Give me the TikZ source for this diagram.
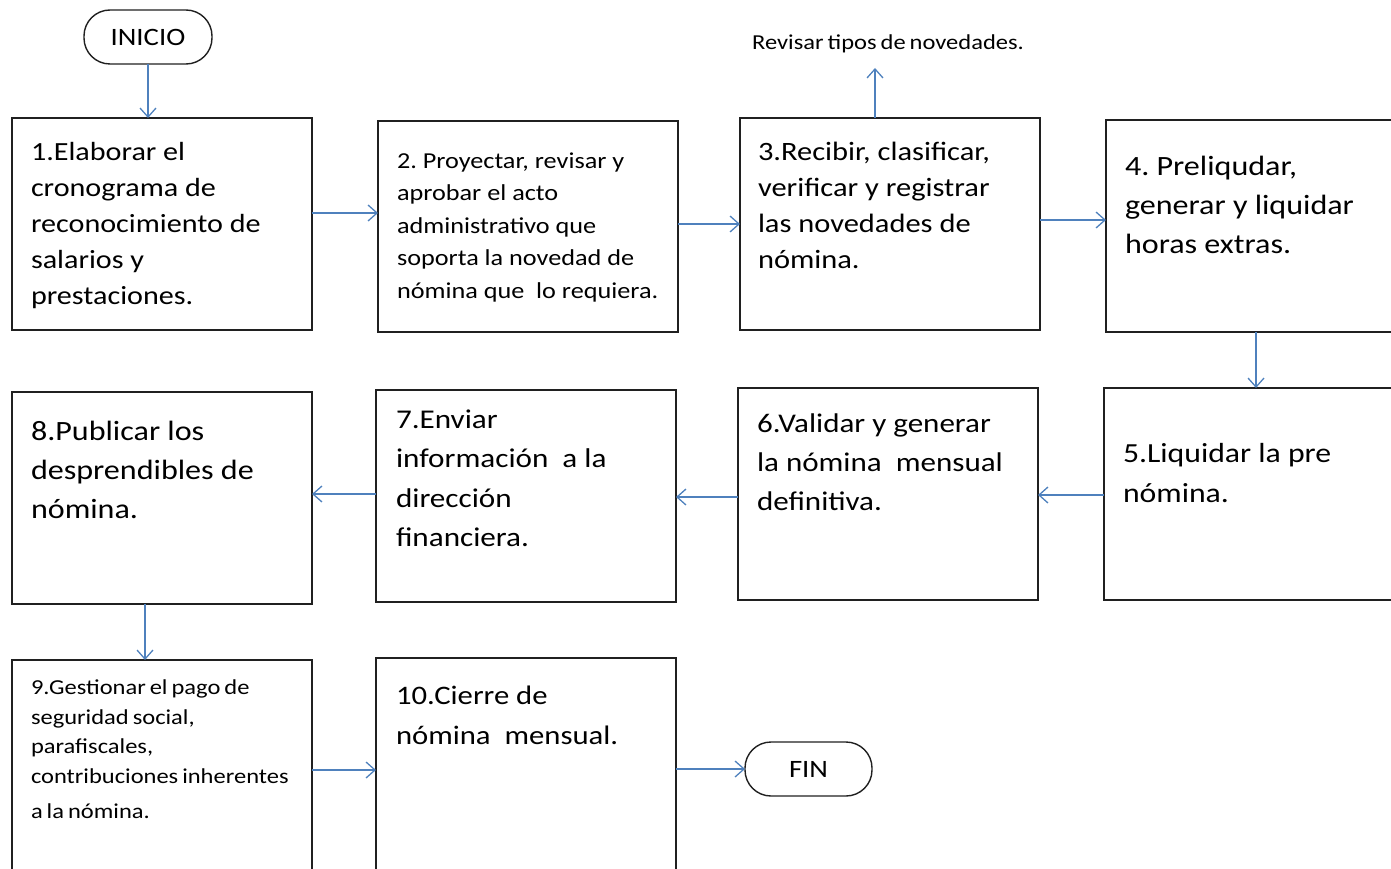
\documentclass[tikz,border=0pt]{standalone}
\usepackage{fontspec}
\setmainfont[FakeStretch=1.15]{Carlito}
\usetikzlibrary{arrows.meta,calc}
\definecolor{boxc}{HTML}{202020}
\definecolor{arrc}{HTML}{4F81BD}
\newcommand{\tightsp}{\spaceskip=4pt plus 1pt\relax}
\frenchspacing
\tikzset{
  box/.style={draw=boxc, line width=1.6pt, fill=none, inner sep=0pt, outer sep=0pt, anchor=north west},
  term/.style={draw=boxc, line width=1.4pt, rounded corners=26pt, inner sep=0pt, outer sep=0pt, font=\fontsize{25}{28}\selectfont},
  txt/.style={anchor=north west, inner sep=0pt, outer sep=0pt, align=left},
  arr/.style={draw=arrc, line width=1.3pt, -{Straight Barb[length=9pt,width=16pt,line width=1.3pt]}},
}
\begin{document}
\begin{tikzpicture}[x=1pt,y=-1pt]
\useasboundingbox (0,0) rectangle (1391,869);
\clip (0,0) rectangle (1391,869);
% terminals
\node[term, minimum width=128pt, minimum height=54pt] (ini) at (148,37) {\raisebox{-2pt}{INICIO}};
\node[term, minimum width=127pt, minimum height=54pt] (fin) at (808.5,769) {\raisebox{-1pt}{FIN}};
% boxes
\node[box, minimum width=300pt, minimum height=212pt] (b1) at (12,118) {};
\node[box, minimum width=300pt, minimum height=211pt] (b2) at (378,121) {};
\node[box, minimum width=300pt, minimum height=212pt] (b3) at (740,118) {};
\node[box, minimum width=320pt, minimum height=212pt] (b4) at (1106,120) {};
\node[box, minimum width=320pt, minimum height=212pt] (b5) at (1104,388) {};
\node[box, minimum width=300pt, minimum height=212pt] (b6) at (738,388) {};
\node[box, minimum width=300pt, minimum height=212pt] (b7) at (376,390) {};
\node[box, minimum width=300pt, minimum height=212pt] (b8) at (12,392) {};
\node[box, minimum width=300pt, minimum height=240pt] (b9) at (12,660) {};
\node[box, minimum width=300pt, minimum height=240pt] (b10) at (376,658) {};
% texts
\node[txt, font=\fontsize{26.2}{36}\selectfont] (t1) at (31,142) {1.Elaborar el\\cronograma de\\reconocimiento de\\salarios y\\prestaciones.};
\node[txt, font=\fontsize{22.8}{32.5}\selectfont] (t2) at (397,152.5) {2. Proyectar, revisar y\\aprobar el acto\\administrativo que\\soporta la novedad de\\nómina que \ lo requiera.};
\node[txt, font=\fontsize{26.5}{36}\selectfont] (t3) at (758,142) {3.Recibir, clasificar,\\verificar y registrar\\las novedades de\\nómina.};
\node[txt, font=\fontsize{27.9}{39}\selectfont] (t4) at (1125,156) {4. Preliqudar,\\generar y liquidar\\horas extras.};
\node[txt, font=\fontsize{27.6}{40}\selectfont] (t5) at (1123,443.5) {5.Liquidar la pre\\nómina.};
\node[txt, font=\fontsize{27}{39}\selectfont] (t6) at (757,413.5) {6.Validar y generar\\la nómina \ mensual\\definitiva.};
\node[txt, font=\fontsize{27.1}{39.5}\selectfont] (t7) at (396,409.5) {7.Enviar\\información \ a la\\dirección\\financiera.};
\node[txt, font=\fontsize{27.9}{39}\selectfont] (t8) at (31,421.5) {8.Publicar los\\desprendibles de\\nómina.};
\node[txt, font=\fontsize{21.3}{29.5}\selectfont\tightsp] (t9) at (31,680) {9.Gestionar el pago de\\seguridad social,\\parafiscales,\\contribuciones inherentes\\[6pt]a la nómina.};
\node[txt, font=\fontsize{26.7}{40}\selectfont] (t10) at (396,686) {10.Cierre de\\nómina \ mensual.};
\node[inner sep=0pt, font=\fontsize{21.3}{24}\selectfont\tightsp] (rev) at (888,44) {Revisar tipos de novedades.};
% connector helpers
\path ($(b1.east)+(0,-11)$) coordinate (a12);
\path ($(b2.east)+(0,-2.5)$) coordinate (a23);
\path ($(b3.east)+(0,-4)$) coordinate (a34);
\path ($(b4.south)+(-10,0)$) coordinate (a45);
\path ($(b5.west)+(0,1)$) coordinate (a56);
\path ($(b6.west)+(0,3)$) coordinate (a67);
\path ($(b7.west)+(0,-2)$) coordinate (a78);
\path ($(b8.south)+(-17,0)$) coordinate (a89);
\path (b9.west |- 0,770) coordinate (a9l);
\path (b9.east |- a9l) coordinate (a910);
\path (b10.east |- fin.west) coordinate (a10f);
\path ($(b3.north)+(-15,0)$) coordinate (a3r);
\coordinate (revend) at (875,68);
% connectors
\draw[arr] (ini.south) -- (ini.south |- b1.north);
\draw[arr] (a12) -- (a12 -| b2.west);
\draw[arr] (a23) -- (a23 -| b3.west);
\draw[arr] (a34) -- (a34 -| b4.west);
\draw[arr] (a45) -- (a45 |- b5.north);
\draw[arr] (a56) -- (a56 -| b6.east);
\draw[arr] (a67) -- (a67 -| b7.east);
\draw[arr] (a78) -- (a78 -| b8.east);
\draw[arr] (a89) -- (a89 |- b9.north);
\draw[arr] (a910) -- (a910 -| b10.west);
\draw[arr] (a10f) -- (fin.west);
\draw[arr] (a3r) -- (revend);
\end{tikzpicture}
\end{document}
